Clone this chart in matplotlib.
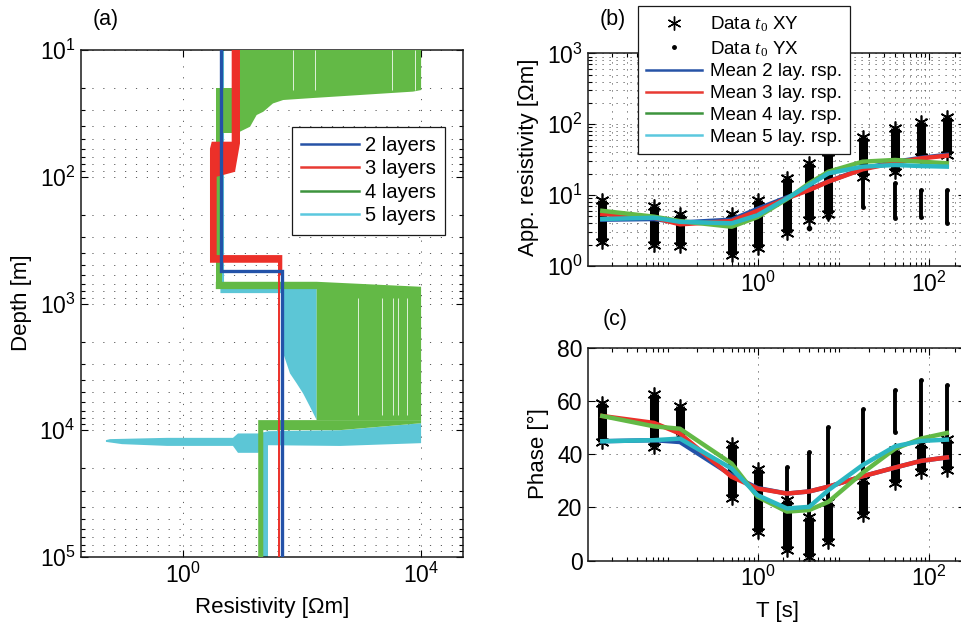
import math

import matplotlib
matplotlib.use("Agg")
import matplotlib.pyplot as plt
from matplotlib.lines import Line2D
from matplotlib.ticker import FixedLocator, FuncFormatter, NullLocator, NullFormatter, LogLocator

plt.rcParams["font.family"] = ["Liberation Sans", "DejaVu Sans"]
plt.rcParams["mathtext.fontset"] = "custom"
plt.rcParams["mathtext.rm"] = "Liberation Serif"
plt.rcParams["mathtext.it"] = "Liberation Serif:italic"
plt.rcParams["font.size"] = 16

# ---- (a) model ensembles, envelopes (resistivity [Ohm m], depth [m])
green_top_res = [9.15, 1e4, 1e4, 7310, 137, 48.7, 32.7, 22.5, 17.4, 13.5, 10.4, 9.15]
green_top_dep = [10, 10, 20.7, 21.3, 24.0, 24.8, 26.4, 30.7, 32.6, 40.3, 42.8, 44.1]
green_l2_res = [3.6, 9.15, 9.15, 4.5, 4.5, 3.6]
green_l2_dep = [19.8, 19.8, 45.4, 45.4, 700, 700]
green_l3_res = [3.6, 177, 1e4, 1e4, 177, 177, 3.6]
green_l3_dep = [674, 674, 738, 8320, 8320, 770, 770]
green_l4_res = [18.5, 1e4, 1e4, 436, 22.5, 22.5, 18.5]
green_l4_dep = [8320, 8320, 8800, 9980, 9980, 1e5, 1e5]
green_gap_top = [71.8, 165, 3210, 7900]
green_gap_mid = [884, 2180, 3420, 4140, 5730]

cyan_l3_res = [4.3, 177, 177, 166, 137, 120, 105, 81.8, 63.1, 48.7, 48.7, 4.3]
cyan_l3_dep = [760, 760, 8320, 7830, 6530, 5790, 5130, 4270, 3560, 2480, 828, 828]
cyan_band_res = [0.0516, 0.0603, 0.546, 6.98, 8.47, 18.5, 27.3, 436, 1e4,
                 1e4, 436, 27.3, 18.5, 8.47, 6.98, 0.546, 0.096, 0.0603, 0.0516]
cyan_band_dep = [11970, 11750, 11480, 11480, 10600, 10600, 10170, 10000, 8800,
                 12640, 13300, 13120, 15070, 15070, 13290, 13290, 12870, 12480, 12350]
cyan_l5_res = [22.5, 27.3, 27.3, 22.5]
cyan_l5_dep = [12000, 12000, 1e5, 1e5]

red_res = [6.64, 9.15, 9.15, 7.55, 3.72, 3.72, 46.9, 46.9, 40.0, 40.0, 2.87, 2.87, 3.07, 6.64]
red_dep = [10, 10, 54.5, 91.4, 100, 415, 415, 600, 600, 477, 477, 60, 52.9, 52.9]
red_tail_res = [40.8, 40.8]
red_tail_dep = [477, 1e5]

blue_res = [4.34, 4.34, 45.8, 45.8]
blue_dep = [10, 553, 553, 1e5]

# ---- (b), (c) MT data and mean responses
T = [0.0156, 0.0625, 0.125, 0.5, 1.0, 2.2, 4.0, 6.7, 16.7, 40.0, 80.0, 160.0]
rho_xy_lo = [2.2, 2.0, 1.9, 1.43, 1.8, 2.95, 4.45, 5.5, 18.2, 21.4, 34.8, 36.8]
rho_xy_hi = [8.5, 7.0, 5.4, 5.4, 8.5, 17.3, 28.0, 41.0, 66.7, 87.5, 108, 128]
rho_yx_lo = [2.5, 2.3, 2.1, 1.6, 2.0, 3.3, 4.6, 5.6, 6.9, 4.7, 4.9, 4.0]
rho_yx_hi = [7.5, 6.0, 5.0, 5.0, 7.5, 15.0, 25.0, 38.0, 30.0, 14.7, 11.8, 11.8]
rho_yx_out_T = [4.0, 6.7]
rho_yx_out = [3.4, 4.96]

ph_xy_lo = [44.6, 42.7, 47.1, 23.4, 10.8, 4.0, 1.5, 7.1, 17.1, 29.0, 33.4, 34.0]
ph_xy_hi = [59.3, 62.5, 58.0, 44.0, 34.6, 22.7, 16.5, 22.1, 30.2, 41.5, 44.0, 45.9]
ph_yx_lo = [45.5, 44.0, 47.5, 25.0, 13.0, 19.0, 16.0, 20.0, 30.0, 48.4, 46.0, 45.0]
ph_yx_hi = [58.0, 57.0, 56.0, 43.0, 32.0, 35.2, 40.9, 50.2, 57.1, 64.3, 67.8, 65.9]

rho_mean = {
    2: [4.5, 4.6, 4.1, 4.5, 6.4, 9.3, 12.0, 15.6, 23.5, 29.5, 33.5, 37.0],
    3: [5.4, 4.8, 3.87, 4.3, 6.0, 9.0, 11.8, 15.5, 23.1, 28.6, 33.0, 36.0],
    4: [6.0, 4.96, 4.3, 3.58, 4.9, 8.8, 14.7, 21.4, 29.6, 31.3, 29.6, 28.1],
    5: [4.6, 4.8, 4.2, 4.0, 5.2, 9.0, 13.9, 20.3, 25.2, 26.6, 25.7, 25.2],
}
ph_mean = {
    2: [44.9, 45.3, 44.6, 32.1, 27.3, 25.2, 26.0, 27.8, 31.7, 35.0, 37.5, 38.8],
    3: [54.4, 51.8, 47.8, 31.5, 27.1, 25.2, 26.0, 27.8, 31.7, 35.0, 37.5, 38.8],
    4: [54.4, 50.5, 49.6, 36.5, 24.0, 18.4, 19.0, 22.1, 33.0, 42.1, 45.9, 48.0],
    5: [44.9, 45.3, 45.9, 34.6, 24.6, 19.6, 20.2, 26.5, 35.9, 43.0, 45.0, 45.5],
}

FILL = {"blue": "#2352a8", "red": "#ec3029", "green": "#63b946", "cyan": "#5cc6d6"}
MEAN = {2: "#2352a8", 3: "#ec3029", 4: "#63b946", 5: "#2bb7c2"}
LEG = {2: "#2653a6", 3: "#e83a33", 4: "#3d943d", 5: "#5bc8de"}

ASTER = (6, 2, 0)
DOT_A = dict(color="0.35", lw=0.7, ls=(0, (1.2, 10)))
DOT_B = dict(color="0.35", lw=0.7, ls=(0, (1.2, 6)))
TICK_FS = 16.5
pow10 = FuncFormatter(lambda v, p: r"$\mathregular{10^{%d}}$" % round(math.log10(v)))

fig = plt.figure(figsize=(9.62, 6.25), dpi=100)
W, H = 962, 625


def px_axes(l, t, r, b):
    return fig.add_axes([l / W, 1 - b / H, (r - l) / W, (b - t) / H])


def style(ax):
    ax.tick_params(which="both", direction="in", top=True, right=True, width=0.8,
                   pad=4, labelsize=TICK_FS)
    ax.tick_params(which="major", length=5)
    ax.tick_params(which="minor", length=3)
    for s in ax.spines.values():
        s.set_linewidth(1.1)
        s.set_color("0.1")


# ------------------------------------------------------------------ (a)
ax = px_axes(81, 50, 463, 557)
ax.set_xscale("log")
ax.set_yscale("log")
ax.set_xlim(10 ** -1.706, 10 ** 4.703)
ax.set_ylim(1e5, 10)
ax.fill(cyan_l3_res, cyan_l3_dep, color=FILL["cyan"], lw=0, zorder=2)
ax.fill(cyan_band_res, cyan_band_dep, color=FILL["cyan"], lw=0, zorder=2)
ax.fill(cyan_l5_res, cyan_l5_dep, color=FILL["cyan"], lw=0, zorder=2)
ax.plot([4.5, 4.5], [10, 790], color=FILL["cyan"], lw=2.2, zorder=2)
for r, d in [(green_top_res, green_top_dep), (green_l2_res, green_l2_dep),
             (green_l3_res, green_l3_dep), (green_l4_res, green_l4_dep)]:
    ax.fill(r, d, color=FILL["green"], lw=0, zorder=3)
ax.vlines(green_gap_top, 10, 20.5, color="white", lw=0.7, alpha=0.8, zorder=3)
ax.vlines(green_gap_mid, 900, 7600, color="white", lw=0.7, alpha=0.8, zorder=3)
ax.fill(red_res, red_dep, color=FILL["red"], lw=0, zorder=4)
ax.plot(red_tail_res, red_tail_dep, color=FILL["red"], lw=1.4, zorder=4)
ax.plot(blue_res, blue_dep, color=FILL["blue"], lw=2.4, zorder=5, solid_joinstyle="miter")

ax.xaxis.set_major_locator(FixedLocator([1, 1e4]))
ax.xaxis.set_minor_locator(NullLocator())
ax.xaxis.set_major_formatter(pow10)
ax.yaxis.set_major_locator(FixedLocator([10, 100, 1e3, 1e4, 1e5]))
ax.yaxis.set_minor_locator(LogLocator(base=10, subs=range(2, 10)))
ax.yaxis.set_major_formatter(pow10)
ax.yaxis.set_minor_formatter(NullFormatter())
ax.grid(True, which="major", **DOT_A)
ax.yaxis.grid(True, which="minor", **DOT_A)
style(ax)
handles = [Line2D([], [], color=LEG[k], lw=1.8) for k in (2, 3, 4, 5)]
leg = ax.legend(handles, ["2 layers", "3 layers", "4 layers", "5 layers"],
                loc="upper left", bbox_to_anchor=(0.5516, 0.849), borderaxespad=0,
                fancybox=False, edgecolor="0.1", framealpha=1, fontsize=14.5,
                handlelength=2.85, handletextpad=0.3, labelspacing=0.21, borderpad=0.48)
leg.get_frame().set_linewidth(0.9)
leg.set_zorder(10)

# ------------------------------------------------------------------ (b)
XL = (10 ** -1.97, 10 ** 2.42)
axb = px_axes(588.3, 53.3, 965.4, 266)
axb.set_xscale("log")
axb.set_yscale("log")
axb.set_xlim(*XL)
axb.set_ylim(1, 1000)
axb.vlines(T, rho_yx_lo, rho_yx_hi, color="k", lw=2.8, zorder=2)
axb.plot(T + T, rho_yx_lo + rho_yx_hi, ls="none", marker=".", ms=5, color="k", zorder=2)
axb.plot(rho_yx_out_T, rho_yx_out, ls="none", marker=".", ms=6, color="k", zorder=2)
axb.vlines(T, rho_xy_lo, rho_xy_hi, color="k", lw=6.5, zorder=2)
axb.plot(T + T, rho_xy_lo + rho_xy_hi, ls="none", marker=ASTER, ms=10, mew=1.2,
         color="k", zorder=2)
for k in (2, 3, 4, 5):
    axb.plot(T, rho_mean[k], color=MEAN[k], lw=3.2, zorder=3, solid_joinstyle="round")
axb.xaxis.set_major_locator(FixedLocator([0.01, 1, 100]))
axb.xaxis.set_minor_locator(LogLocator(base=10, subs=range(2, 10)))
axb.xaxis.set_major_formatter(pow10)
axb.xaxis.set_minor_formatter(NullFormatter())
axb.yaxis.set_major_locator(FixedLocator([1, 10, 100, 1000]))
axb.yaxis.set_minor_locator(LogLocator(base=10, subs=range(2, 10)))
axb.yaxis.set_major_formatter(pow10)
axb.yaxis.set_minor_formatter(NullFormatter())
axb.grid(True, which="both", **DOT_B)
style(axb)
hb = [Line2D([], [], ls="none", marker=ASTER, ms=10, mew=1.0, color="k"),
      Line2D([], [], ls="none", marker=".", ms=5, color="k")]
hb += [Line2D([], [], color=LEG[k], lw=1.8) for k in (2, 3, 4, 5)]
legb = axb.legend(hb, [r"Data $t_0$ XY", r"Data $t_0$ YX", "Mean 2 lay. rsp.",
                       "Mean 3 lay. rsp.", "Mean 4 lay. rsp.", "Mean 5 lay. rsp."],
                  loc="upper left", bbox_to_anchor=(0.131, 1.222), borderaxespad=0,
                  fancybox=False, edgecolor="0.1", framealpha=1, fontsize=13.5,
                  handlelength=3.0, handletextpad=0.4, labelspacing=0.25, borderpad=0.45)
legb.get_frame().set_linewidth(0.9)
legb.set_zorder(10)

# ------------------------------------------------------------------ (c)
axc = px_axes(588.3, 348, 965.4, 560.5)
axc.set_xscale("log")
axc.set_xlim(*XL)
axc.set_ylim(0, 80)
axc.vlines(T, ph_yx_lo, ph_yx_hi, color="k", lw=2.8, zorder=2)
axc.plot(T + T, ph_yx_lo + ph_yx_hi, ls="none", marker=".", ms=5, color="k", zorder=2)
axc.vlines(T, ph_xy_lo, ph_xy_hi, color="k", lw=6.5, zorder=2)
axc.plot(T + T, ph_xy_lo + ph_xy_hi, ls="none", marker=ASTER, ms=10, mew=1.2,
         color="k", zorder=2)
for k in (2, 3, 4, 5):
    axc.plot(T, ph_mean[k], color=MEAN[k], lw=3.2, zorder=3, solid_joinstyle="round")
axc.xaxis.set_major_locator(FixedLocator([0.01, 1, 100]))
axc.xaxis.set_minor_locator(LogLocator(base=10, subs=range(2, 10)))
axc.xaxis.set_major_formatter(pow10)
axc.xaxis.set_minor_formatter(NullFormatter())
axc.set_yticks([0, 20, 40, 60, 80])
axc.grid(True, which="major", **DOT_B)
style(axc)

# ------------------------------------------------------------------ labels
fig.text(22 / W, 1 - 303 / H, "Depth [m]", rotation=90, ha="center", va="center")
fig.text(272 / W, 1 - 608 / H, "Resistivity [Ωm]", ha="center", va="center")
fig.text(529 / W, 1 - 157 / H, "App. resistivity [Ωm]", rotation=90, ha="center", va="center")
fig.text(538 / W, 1 - 454 / H, "Phase [°]", rotation=90, ha="center", va="center")
fig.text(778 / W, 1 - 612 / H, "T [s]", ha="center", va="center")
fig.text(106 / W, 1 - 20 / H, "(a)", ha="center", va="center", fontsize=15.5)
fig.text(613 / W, 1 - 19 / H, "(b)", ha="center", va="center", fontsize=15.5)
fig.text(615 / W, 1 - 319 / H, "(c)", ha="center", va="center", fontsize=15.5)

fig.savefig("out.png", dpi=100)
